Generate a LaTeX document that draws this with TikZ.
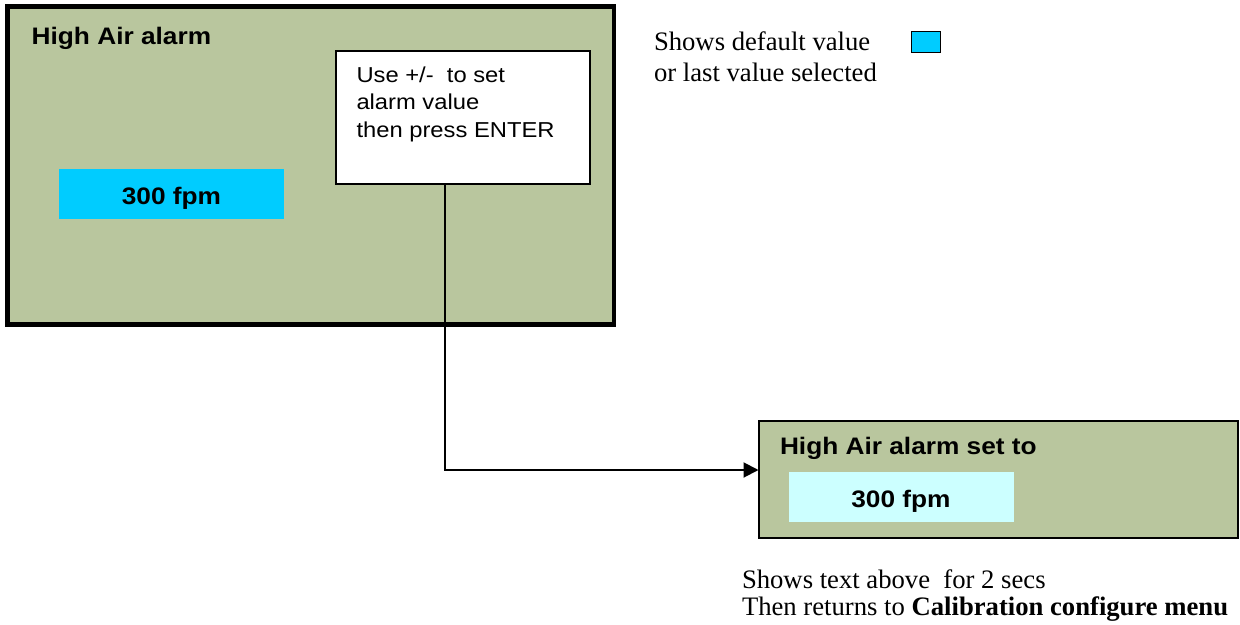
\documentclass[tikz,border=0pt]{standalone}
\usepackage{fontspec}
\setmainfont{Liberation Serif}
\newfontfamily\arial[FakeStretch=1.1]{Liberation Sans}
\usetikzlibrary{fit,arrows.meta}
\definecolor{panel}{RGB}{185,198,158}
\definecolor{selcyan}{RGB}{0,204,255}
\definecolor{palecyan}{RGB}{204,255,255}
\begin{document}
\begin{tikzpicture}[x=0.75pt,y=-0.75pt,line join=miter,>={Triangle[length=11.25pt,width=11.25pt]}]
	\tikzset{every node/.style={inner sep=0pt,outer sep=0pt},
		screen/.style={fill=panel,draw=black},
		field/.style={fill=#1,draw=none},
		hint/.style={fill=white,draw=black,line width=1.5pt},
		boldtxt/.style={font=\arial\fontsize{17.9}{20}\selectfont\bfseries},
		plaintxt/.style={font=\arial\fontsize{16.2}{20.8}\selectfont,align=left},
		serif/.style={font=\fontsize{20}{#1}\selectfont,align=left}}
	\useasboundingbox (0,0) rectangle (1240,625);
	% entry screen
	\node[screen,line width=3.5pt,fit={(7.5,6.8) (614,324.5)}] (entry) {};
	\node[boldtxt,anchor=base west] (entrytitle) at (31.7,44.5) {High Air alarm};
	\node[field=selcyan,fit={(59,169) (284,219)}] (curval) {};
	\node[boldtxt,anchor=base] (curtxt) at (171.5,204) {300 fpm};
	\node[hint,fit={(335.5,51) (589.7,183.5)}] (note) {};
	\node[plaintxt,anchor=base west] (notetxt) at (356.5,137.5) {Use +/-\ \ to set\\alarm value\\then press ENTER};
	% legend
	\node[serif=23.25,anchor=base west] (legtxt) at (654,81.7) {Shows default value\\or last value selected};
	\node[field=selcyan,draw=black,line width=1pt,fit={(911.5,31.5) (940.5,52.5)}] (swatch) {};
	% confirm screen
	\node[screen,line width=1.5pt,fit={(758.5,421) (1237.5,537.5)}] (setto) {};
	\node[boldtxt,anchor=base west] (settitle) at (780,454) {High Air alarm set to};
	\node[field=palecyan,fit={(789,472.3) (1014,521.7)}] (newval) {};
	\node[boldtxt,anchor=base] (newtxt) at (901,507.5) {300 fpm};
	\node[serif=20.25,anchor=base west] (endtxt) at (742,615) {Shows text above\ \ for 2 secs\\Then returns to \textbf{Calibration configure menu}};
	% connector
	\coordinate (bend) at (445,470);
	\draw[->,line width=1.5pt] (note.south -| bend) |- (setto.west |- bend);
\end{tikzpicture}
\end{document}
